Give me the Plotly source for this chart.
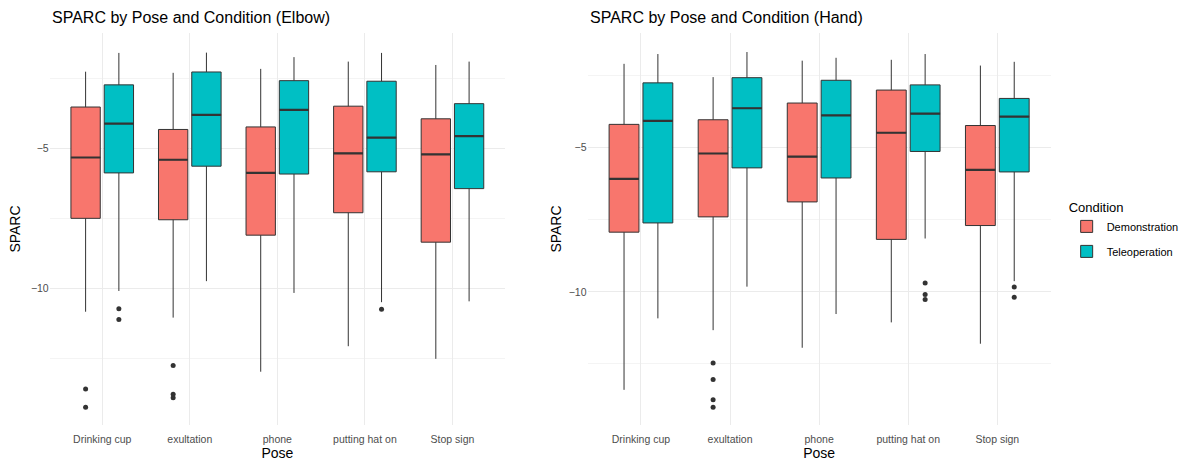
import plotly.graph_objects as go

poses = ["Drinking cup", "exultation", "phone", "putting hat on", "Stop sign"]
conditions = ["Demonstration", "Teleoperation"]

# ---- Elbow SPARC summary statistics (per pose) ----
elbow_demo_low = [-10.82, -11.03, -12.96, -12.05, -12.50]
elbow_demo_q1 = [-7.49, -7.54, -8.09, -7.29, -8.34]
elbow_demo_med = [-5.32, -5.40, -5.87, -5.17, -5.21]
elbow_demo_q3 = [-3.52, -4.32, -4.23, -3.49, -3.94]
elbow_demo_high = [-2.26, -2.30, -2.16, -1.90, -2.02]
elbow_demo_out = [[-13.58, -14.23], [-12.74, -13.76, -13.89], [], [], []]

elbow_tele_low = [-10.08, -9.73, -10.15, -10.48, -10.45]
elbow_tele_q1 = [-5.87, -5.63, -5.91, -5.83, -6.43]
elbow_tele_med = [-4.11, -3.80, -3.62, -4.61, -4.56]
elbow_tele_q3 = [-2.73, -2.27, -2.58, -2.60, -3.40]
elbow_tele_high = [-1.59, -1.58, -1.74, -1.59, -1.90]
elbow_tele_out = [[-10.71, -11.10], [], [], [-10.73], []]

# ---- Hand SPARC summary statistics (per pose) ----
hand_demo_low = [-13.40, -11.33, -11.94, -11.06, -11.80]
hand_demo_q1 = [-7.93, -7.40, -6.88, -8.18, -7.70]
hand_demo_med = [-6.08, -5.20, -5.31, -4.48, -5.77]
hand_demo_q3 = [-4.19, -4.03, -3.45, -3.00, -4.23]
hand_demo_high = [-2.09, -2.55, -1.98, -1.95, -2.15]
hand_demo_out = [[], [-12.47, -13.04, -13.74, -14.00], [], [], []]

hand_tele_low = [-10.92, -9.82, -10.77, -8.15, -9.63]
hand_tele_q1 = [-7.61, -5.70, -6.05, -5.13, -5.84]
hand_tele_med = [-4.07, -3.63, -3.88, -3.82, -3.92]
hand_tele_q3 = [-2.75, -2.57, -2.66, -2.82, -3.29]
hand_tele_high = [-1.75, -1.68, -1.88, -1.75, -2.02]
hand_tele_out = [[], [], [], [-9.69, -10.09, -10.27], [-9.83, -10.19]]

FILL = {"Demonstration": "#F8766D", "Teleoperation": "#00BFC4"}
OFFSET = {"Demonstration": -0.19, "Teleoperation": 0.19}
BOX_W = 0.335
INK = "#333333"
FONT = "Liberation Sans, Arial, sans-serif"

fig = go.Figure()


def add_group(cond, low, q1, med, q3, high, outliers, xa, ya, show_legend):
    pos = [i + OFFSET[cond] for i in range(len(poses))]
    fig.add_trace(go.Box(
        x=pos, q1=q1, median=med, q3=q3, lowerfence=low, upperfence=high,
        width=BOX_W, whiskerwidth=0, fillcolor=FILL[cond],
        line=dict(color=INK, width=1), name=cond, legendgroup=cond,
        showlegend=show_legend, xaxis=xa, yaxis=ya, hoverinfo="skip",
    ))
    # thicker median bars
    mx, my = [], []
    for p, m in zip(pos, med):
        mx += [p - BOX_W / 2, p + BOX_W / 2, None]
        my += [m, m, None]
    fig.add_trace(go.Scatter(
        x=mx, y=my, mode="lines", line=dict(color=INK, width=2.2),
        showlegend=False, xaxis=xa, yaxis=ya, hoverinfo="skip",
    ))
    ox, oy = [], []
    for p, pts in zip(pos, outliers):
        ox += [p] * len(pts)
        oy += pts
    fig.add_trace(go.Scatter(
        x=ox, y=oy, mode="markers", marker=dict(color=INK, size=5),
        showlegend=False, xaxis=xa, yaxis=ya, hoverinfo="skip",
    ))


add_group("Demonstration", elbow_demo_low, elbow_demo_q1, elbow_demo_med,
          elbow_demo_q3, elbow_demo_high, elbow_demo_out, "x", "y", True)
add_group("Teleoperation", elbow_tele_low, elbow_tele_q1, elbow_tele_med,
          elbow_tele_q3, elbow_tele_high, elbow_tele_out, "x", "y", True)
add_group("Demonstration", hand_demo_low, hand_demo_q1, hand_demo_med,
          hand_demo_q3, hand_demo_high, hand_demo_out, "x2", "y2", False)
add_group("Teleoperation", hand_tele_low, hand_tele_q1, hand_tele_med,
          hand_tele_q3, hand_tele_high, hand_tele_out, "x2", "y2", False)

W, H = 1184, 461
top_px, bot_px = 33, 425
ydom = [1 - bot_px / H, 1 - top_px / H]

tick_font = dict(family=FONT, size=10.5, color="#4D4D4D")
title_font = dict(family=FONT, size=14, color="#000000")

xcommon = dict(
    tickmode="array", tickvals=list(range(len(poses))), ticktext=poses,
    range=[-0.6, 4.6], showgrid=True, gridcolor="#EBEBEB", gridwidth=1,
    zeroline=False, showline=False, ticks="", tickfont=tick_font,
    ticklabelstandoff=6,
    title=dict(text="Pose", font=title_font, standoff=4),
)
ycommon = dict(
    dtick=5, tick0=0, showgrid=True, gridcolor="#EBEBEB", gridwidth=1,
    zeroline=False, showline=False, ticks="", tickfont=tick_font,
    minor=dict(dtick=2.5, tick0=0, showgrid=True, gridcolor="#F4F4F4", gridwidth=1),
)

fig.update_layout(
    width=W, height=H,
    margin=dict(l=0, r=0, t=0, b=0),
    paper_bgcolor="white", plot_bgcolor="white",
    font=dict(family=FONT),
    xaxis=dict(domain=[50 / W, 508 / W], anchor="y", **xcommon),
    yaxis=dict(domain=ydom, anchor="x", range=[-14.86, -0.88],
               title=dict(text="SPARC", font=title_font, standoff=6), **ycommon),
    xaxis2=dict(domain=[591 / W, 1057 / W], anchor="y2", **xcommon),
    yaxis2=dict(domain=ydom, anchor="x2", range=[-14.62, -1.02],
                title=dict(text="SPARC", font=title_font, standoff=3), **ycommon),
    legend=dict(
        x=1073 / W, y=1 - 195 / H, xanchor="left", yanchor="top",
        title=dict(text="Condition", font=dict(family=FONT, size=13, color="#000000")),
        font=dict(family=FONT, size=11, color="#000000"), bgcolor="rgba(0,0,0,0)",
        itemwidth=30, tracegroupgap=6,
    ),
    annotations=[
        dict(text="SPARC by Pose and Condition (Elbow)", x=50 / W, y=1 - 18 / H,
             xref="paper", yref="paper", xanchor="left", yanchor="middle",
             showarrow=False, font=dict(family=FONT, size=16, color="#000000")),
        dict(text="SPARC by Pose and Condition (Hand)", x=591 / W, y=1 - 18 / H,
             xref="paper", yref="paper", xanchor="left", yanchor="middle",
             showarrow=False, font=dict(family=FONT, size=16, color="#000000")),
    ],
)

fig.write_html("out.html")
